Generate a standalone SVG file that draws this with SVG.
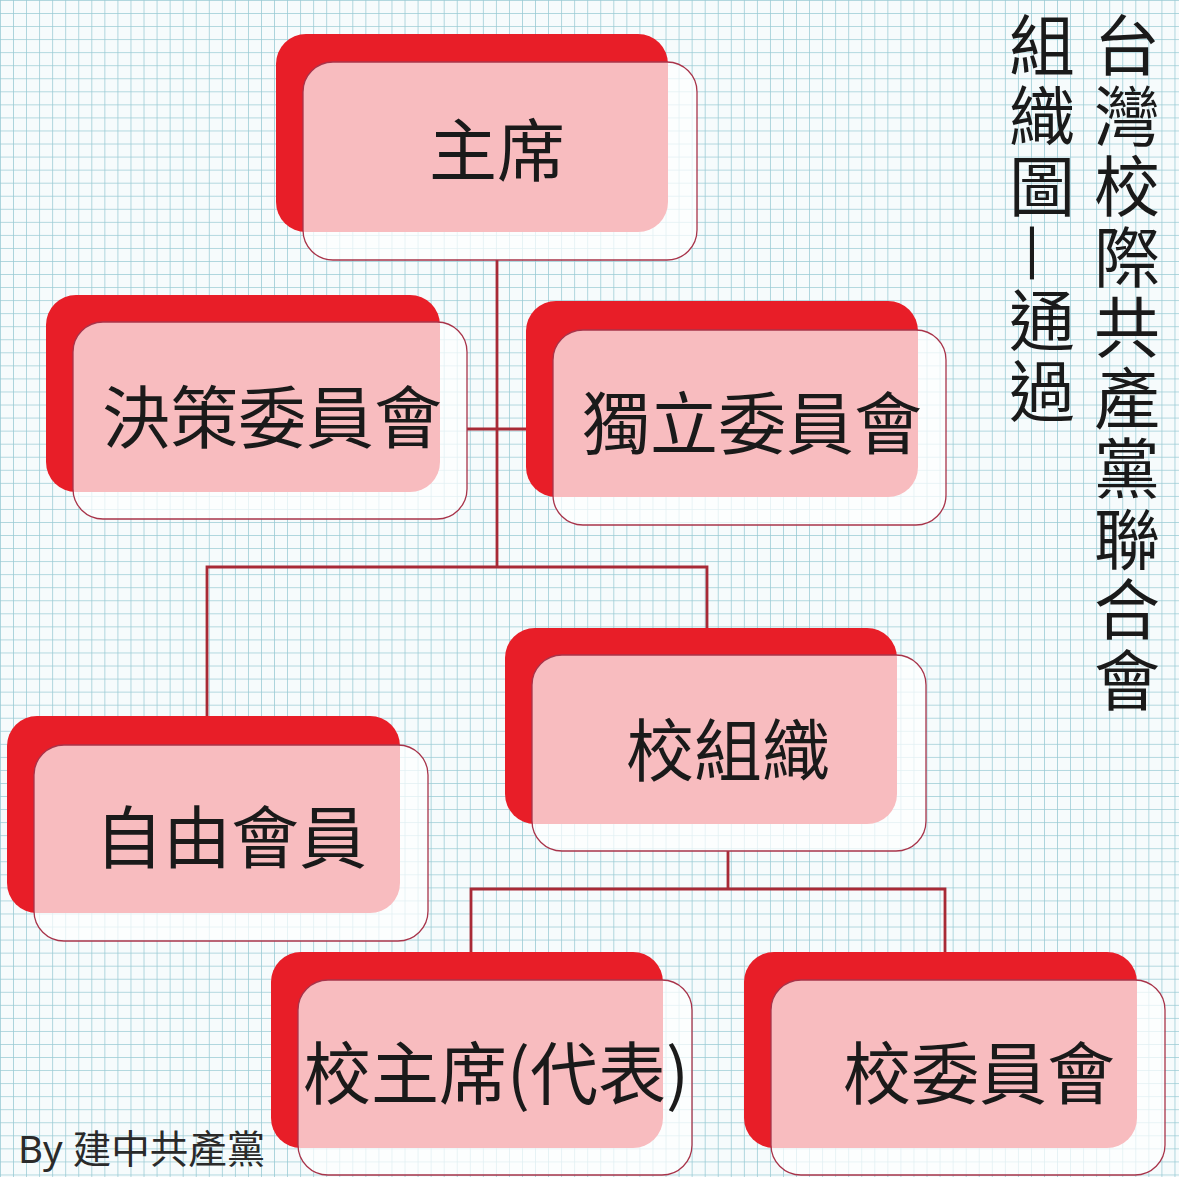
<svg xmlns="http://www.w3.org/2000/svg" width="1179" height="1177" viewBox="0 0 1179 1177">
<defs>
<pattern id="grid" x="0" y="0" width="13.05" height="13.05" patternUnits="userSpaceOnUse">
<path d="M 13.05 0 L 0 0 0 13.05" fill="none" stroke="#98cad4" stroke-width="1.5"/>
</pattern>
<style>
.back{fill:#e81e28;}
.front{fill:#ffffff;fill-opacity:0.7;stroke:#a8344a;stroke-width:1.3;}
.lbl{font-family:"Noto Sans CJK TC","Noto Sans CJK SC",sans-serif;font-size:68px;fill:#1a1a1a;text-anchor:middle;font-weight:400;}
.conn{fill:none;stroke:#a82a36;stroke-width:2.8;}
.title{font-family:"Noto Sans CJK TC","Noto Sans CJK SC",sans-serif;font-size:66px;fill:#1a1a1a;writing-mode:vertical-rl;letter-spacing:4.5px;font-weight:400;}
.by{font-family:"Noto Sans","Noto Sans CJK TC",sans-serif;font-size:38.5px;fill:#2a2a2a;}
</style>
</defs>
<rect width="1179" height="1177" fill="#f6fbfc"/>
<rect width="1179" height="1177" fill="url(#grid)"/>
<g id="connectors">
<path class="conn" d="M497 260 V567"/>
<path class="conn" d="M467 429 H527"/>
<path class="conn" d="M207 716 V567 H707 V628"/>
<path class="conn" d="M728 851 V889"/>
<path class="conn" d="M471 952 V889 H945 V952"/>
</g>
<g id="node-chair">
<rect class="back" x="276" y="34" width="392" height="198" rx="30"/>
<rect class="front" x="303" y="62" width="394" height="198" rx="30"/>
<text class="lbl" x="497" y="176">主席</text>
</g>
<g id="node-decision">
<rect class="back" x="46" y="295" width="394" height="197" rx="30"/>
<rect class="front" x="73" y="322" width="394" height="197" rx="30"/>
<text class="lbl" x="272" y="443">決策委員會</text>
</g>
<g id="node-independent">
<rect class="back" x="526" y="301" width="392" height="196" rx="30"/>
<rect class="front" x="553" y="330" width="393" height="195" rx="30"/>
<text class="lbl" x="752" y="449">獨立委員會</text>
</g>
<g id="node-school-org">
<rect class="back" x="505" y="628" width="392" height="196" rx="30"/>
<rect class="front" x="532" y="655" width="394" height="196" rx="30"/>
<text class="lbl" x="728" y="776">校組織</text>
</g>
<g id="node-free-member">
<rect class="back" x="7" y="716" width="393" height="197" rx="30"/>
<rect class="front" x="34" y="745" width="394" height="196" rx="30"/>
<text class="lbl" x="231" y="863">自由會員</text>
</g>
<g id="node-school-chair">
<rect class="back" x="271" y="952" width="392" height="196" rx="30"/>
<rect class="front" x="298" y="980" width="394" height="195" rx="30"/>
<text class="lbl" x="496" y="1099">校主席(代表)</text>
</g>
<g id="node-school-committee">
<rect class="back" x="744" y="952" width="393" height="196" rx="30"/>
<rect class="front" x="771" y="980" width="394" height="195" rx="30"/>
<text class="lbl" x="979" y="1099">校委員會</text>
</g>
<g id="title">
<text class="title" x="1127" y="12">台灣校際共產黨聯合會</text>
<text class="title" x="1042" y="12">組織圖—通過</text>
</g>
<text class="by" x="18" y="1163">By 建中共產黨</text>
</svg>
